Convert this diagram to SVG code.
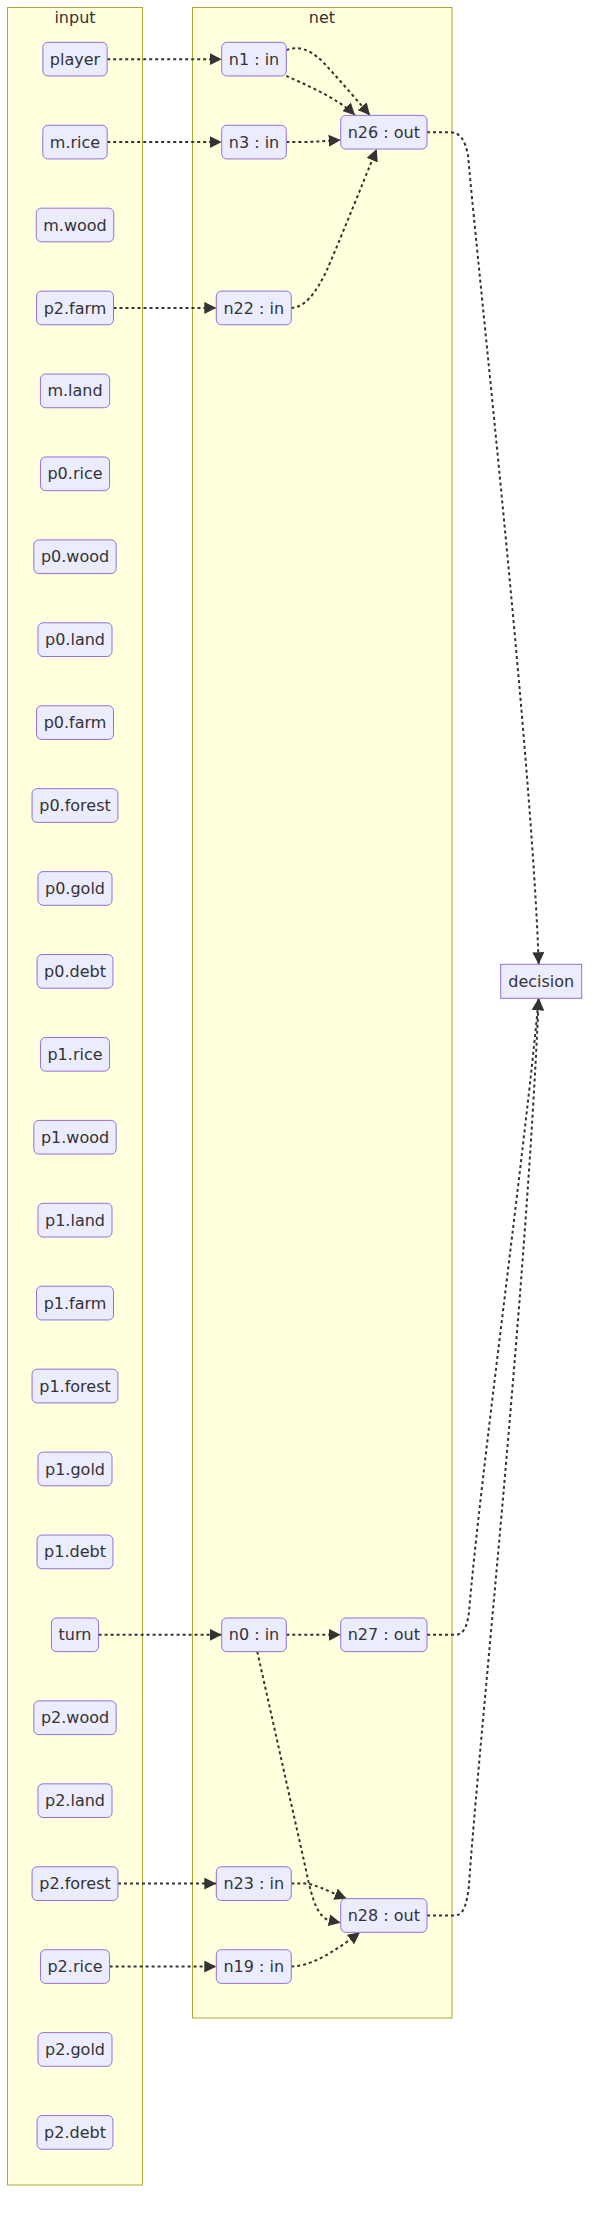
<svg xmlns="http://www.w3.org/2000/svg" width="597" height="2220" viewBox="0 0 597 2220">
<style>
.cluster{fill:#ffffde;stroke:#aaaa33;stroke-width:1}
.ctitle{font-family:"DejaVu Sans","Liberation Sans",sans-serif;font-size:16px;fill:#333;text-anchor:middle}
.node rect{fill:#ECECFF;stroke:#9370DB;stroke-width:1}
.node text{font-family:"DejaVu Sans","Liberation Sans",sans-serif;font-size:16px;fill:#333;text-anchor:middle}
.edge{fill:none;stroke:#333;stroke-width:2;stroke-dasharray:3;marker-end:url(#arrow)}
</style>
<defs>
<marker id="arrow" viewBox="0 0 10 10" refX="10" refY="5" markerWidth="12" markerHeight="12" markerUnits="userSpaceOnUse" orient="auto">
<path d="M0,0 L10,5 L0,10 z" fill="#333"/>
</marker>
</defs>
<g id="cluster-input">
<rect class="cluster" x="7.5" y="7.5" width="135" height="2177.5"/>
<text class="ctitle" x="75" y="22.7">input</text>
</g>
<g id="cluster-net">
<rect class="cluster" x="192.5" y="7.5" width="259.5" height="2010.5"/>
<text class="ctitle" x="322" y="22.7">net</text>
</g>
<g id="connectors">
<path class="edge" d="M107.2,59.15 L221.7,59.15"/>
<path class="edge" d="M107.2,142.08 L221.7,142.08"/>
<path class="edge" d="M113.5,307.94 L216.3,307.94"/>
<path class="edge" d="M98.6,1634.82 L221.7,1634.82"/>
<path class="edge" d="M118,1883.61 L216.3,1883.61"/>
<path class="edge" d="M109.6,1966.54 L216.3,1966.54"/>
<path class="edge" d="M286.3,1634.82 L340.7,1634.82"/>
<path class="edge" d="M286.3,50 C298,46 308,48 322,61 C338,78 355,98 370,115.35"/>
<path class="edge" d="M286.3,76 C300,82 338,98 355,115.35"/>
<path class="edge" d="M286.3,142.08 L300,142.08 C315,142 325,141 340.7,140"/>
<path class="edge" d="M291.3,307.94 C306,307 316,292 326,272 C340,240 362,185 376.7,149.05"/>
<path class="edge" d="M427,132.2 L450,132.2 C460,132.2 465,140 468,155 C479,280 532,760 538.7,964.3"/>
<path class="edge" d="M427,1634.82 L455,1634.82 C463,1634.82 467,1628 469,1612 C480,1480 525,1150 538.7,998.3"/>
<path class="edge" d="M427,1915.5 L455,1915.5 C463,1915.5 467,1905 469,1885 C478,1750 526,1300 538.7,998.3"/>
<path class="edge" d="M257.3,1651.7 L306,1870 C312,1900 318,1918 330,1920.5 L340.7,1922.7"/>
<path class="edge" d="M291.3,1883.61 L305,1883.61 C315,1884 325,1890 346.7,1898.65"/>
<path class="edge" d="M291.3,1966.54 C310,1966 330,1955 360,1932.35"/>
</g>
<g id="player" class="node" transform="translate(75,59.15)"><rect x="-32.15" y="-16.85" width="64.3" height="33.7" rx="5" ry="5"/><text y="5.6">player</text></g>
<g id="m.rice" class="node" transform="translate(75,142.08)"><rect x="-32.2" y="-16.85" width="64.4" height="33.7" rx="5" ry="5"/><text y="5.6">m.rice</text></g>
<g id="m.wood" class="node" transform="translate(75,225.01)"><rect x="-38.75" y="-16.85" width="77.5" height="33.7" rx="5" ry="5"/><text y="5.6">m.wood</text></g>
<g id="p2.farm" class="node" transform="translate(75,307.94)"><rect x="-38.5" y="-16.85" width="77" height="33.7" rx="5" ry="5"/><text y="5.6">p2.farm</text></g>
<g id="m.land" class="node" transform="translate(75,390.87)"><rect x="-34.6" y="-16.85" width="69.2" height="33.7" rx="5" ry="5"/><text y="5.6">m.land</text></g>
<g id="p0.rice" class="node" transform="translate(75,473.8)"><rect x="-34.55" y="-16.85" width="69.1" height="33.7" rx="5" ry="5"/><text y="5.6">p0.rice</text></g>
<g id="p0.wood" class="node" transform="translate(75,556.73)"><rect x="-41.15" y="-16.85" width="82.3" height="33.7" rx="5" ry="5"/><text y="5.6">p0.wood</text></g>
<g id="p0.land" class="node" transform="translate(75,639.66)"><rect x="-37" y="-16.85" width="74" height="33.7" rx="5" ry="5"/><text y="5.6">p0.land</text></g>
<g id="p0.farm" class="node" transform="translate(75,722.59)"><rect x="-38.5" y="-16.85" width="77" height="33.7" rx="5" ry="5"/><text y="5.6">p0.farm</text></g>
<g id="p0.forest" class="node" transform="translate(75,805.52)"><rect x="-42.95" y="-16.85" width="85.9" height="33.7" rx="5" ry="5"/><text y="5.6">p0.forest</text></g>
<g id="p0.gold" class="node" transform="translate(75,888.45)"><rect x="-37" y="-16.85" width="74" height="33.7" rx="5" ry="5"/><text y="5.6">p0.gold</text></g>
<g id="p0.debt" class="node" transform="translate(75,971.38)"><rect x="-37.95" y="-16.85" width="75.9" height="33.7" rx="5" ry="5"/><text y="5.6">p0.debt</text></g>
<g id="p1.rice" class="node" transform="translate(75,1054.31)"><rect x="-34.55" y="-16.85" width="69.1" height="33.7" rx="5" ry="5"/><text y="5.6">p1.rice</text></g>
<g id="p1.wood" class="node" transform="translate(75,1137.24)"><rect x="-41.15" y="-16.85" width="82.3" height="33.7" rx="5" ry="5"/><text y="5.6">p1.wood</text></g>
<g id="p1.land" class="node" transform="translate(75,1220.17)"><rect x="-37" y="-16.85" width="74" height="33.7" rx="5" ry="5"/><text y="5.6">p1.land</text></g>
<g id="p1.farm" class="node" transform="translate(75,1303.1)"><rect x="-38.5" y="-16.85" width="77" height="33.7" rx="5" ry="5"/><text y="5.6">p1.farm</text></g>
<g id="p1.forest" class="node" transform="translate(75,1386.03)"><rect x="-42.95" y="-16.85" width="85.9" height="33.7" rx="5" ry="5"/><text y="5.6">p1.forest</text></g>
<g id="p1.gold" class="node" transform="translate(75,1468.96)"><rect x="-37" y="-16.85" width="74" height="33.7" rx="5" ry="5"/><text y="5.6">p1.gold</text></g>
<g id="p1.debt" class="node" transform="translate(75,1551.89)"><rect x="-37.95" y="-16.85" width="75.9" height="33.7" rx="5" ry="5"/><text y="5.6">p1.debt</text></g>
<g id="turn" class="node" transform="translate(75,1634.82)"><rect x="-23.55" y="-16.85" width="47.1" height="33.7" rx="5" ry="5"/><text y="5.6">turn</text></g>
<g id="p2.wood" class="node" transform="translate(75,1717.75)"><rect x="-41.15" y="-16.85" width="82.3" height="33.7" rx="5" ry="5"/><text y="5.6">p2.wood</text></g>
<g id="p2.land" class="node" transform="translate(75,1800.68)"><rect x="-37" y="-16.85" width="74" height="33.7" rx="5" ry="5"/><text y="5.6">p2.land</text></g>
<g id="p2.forest" class="node" transform="translate(75,1883.61)"><rect x="-42.95" y="-16.85" width="85.9" height="33.7" rx="5" ry="5"/><text y="5.6">p2.forest</text></g>
<g id="p2.rice" class="node" transform="translate(75,1966.54)"><rect x="-34.55" y="-16.85" width="69.1" height="33.7" rx="5" ry="5"/><text y="5.6">p2.rice</text></g>
<g id="p2.gold" class="node" transform="translate(75,2049.47)"><rect x="-37" y="-16.85" width="74" height="33.7" rx="5" ry="5"/><text y="5.6">p2.gold</text></g>
<g id="p2.debt" class="node" transform="translate(75,2132.4)"><rect x="-37.95" y="-16.85" width="75.9" height="33.7" rx="5" ry="5"/><text y="5.6">p2.debt</text></g>
<g id="n1" class="node" transform="translate(254,59.15)"><rect x="-32.3" y="-16.85" width="64.6" height="33.7" rx="5" ry="5"/><text y="5.6">n1 : in</text></g>
<g id="n3" class="node" transform="translate(254,142.08)"><rect x="-32.3" y="-16.85" width="64.6" height="33.7" rx="5" ry="5"/><text y="5.6">n3 : in</text></g>
<g id="n22" class="node" transform="translate(253.8,307.94)"><rect x="-37.5" y="-16.85" width="75" height="33.7" rx="5" ry="5"/><text y="5.6">n22 : in</text></g>
<g id="n26" class="node" transform="translate(383.85,132.2)"><rect x="-43.15" y="-16.85" width="86.3" height="33.7" rx="5" ry="5"/><text y="5.6">n26 : out</text></g>
<g id="n0" class="node" transform="translate(254,1634.82)"><rect x="-32.3" y="-16.85" width="64.6" height="33.7" rx="5" ry="5"/><text y="5.6">n0 : in</text></g>
<g id="n27" class="node" transform="translate(383.85,1634.82)"><rect x="-43.15" y="-16.85" width="86.3" height="33.7" rx="5" ry="5"/><text y="5.6">n27 : out</text></g>
<g id="n23" class="node" transform="translate(253.8,1883.61)"><rect x="-37.5" y="-16.85" width="75" height="33.7" rx="5" ry="5"/><text y="5.6">n23 : in</text></g>
<g id="n19" class="node" transform="translate(253.8,1966.54)"><rect x="-37.5" y="-16.85" width="75" height="33.7" rx="5" ry="5"/><text y="5.6">n19 : in</text></g>
<g id="n28" class="node" transform="translate(383.85,1915.5)"><rect x="-43.15" y="-16.85" width="86.3" height="33.7" rx="5" ry="5"/><text y="5.6">n28 : out</text></g>
<g id="decision" class="node" transform="translate(541.2,981.3)"><rect x="-40.5" y="-17" width="81" height="34"/><text y="5.6">decision</text></g>
</svg>
